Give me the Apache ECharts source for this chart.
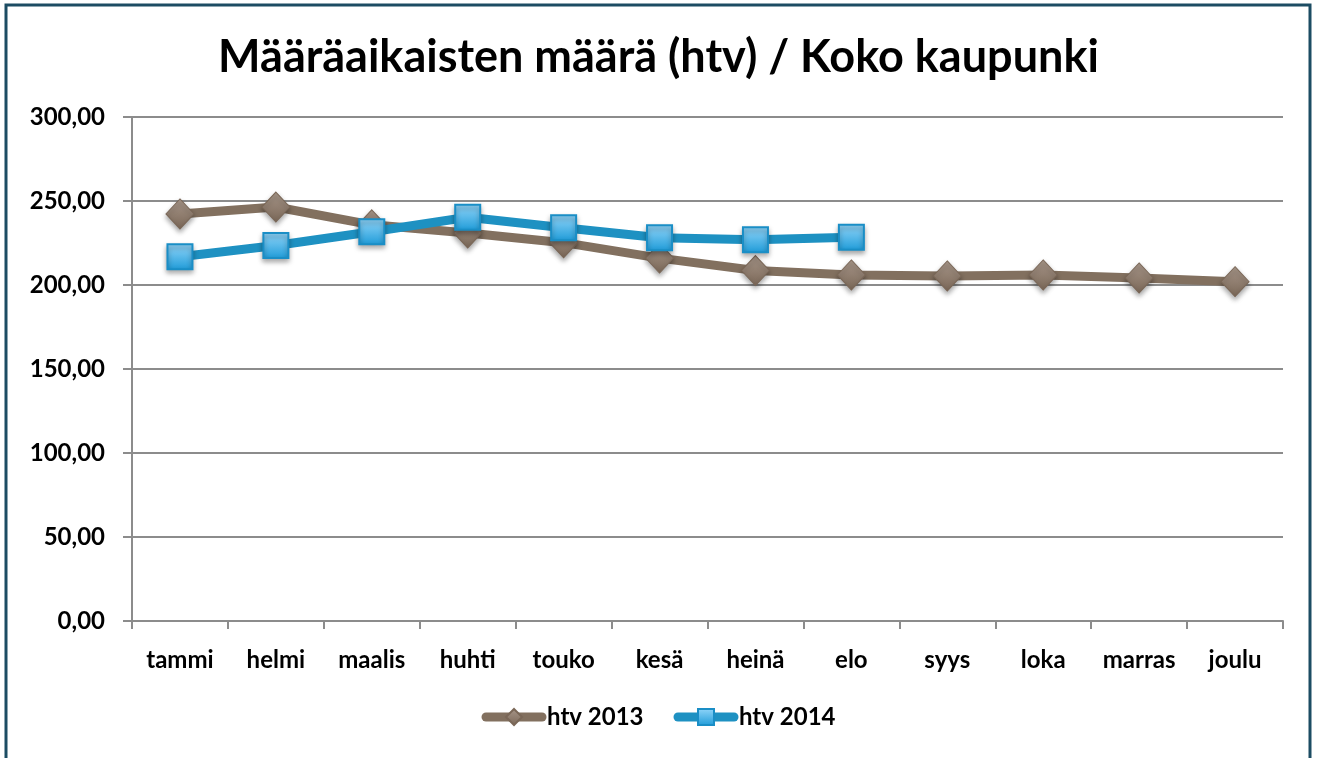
<!DOCTYPE html>
<html>
<head>
<meta charset="utf-8">
<script src="https://cdn.jsdelivr.net/npm/echarts@6/dist/echarts.min.js"></script>
<style>
  html, body { margin: 0; padding: 0; background: #fff; }
  #chart { width: 1317px; height: 758px; }
</style>
</head>
<body>
<div id="chart"></div>
<script>
// kuukaudet ja arvot luettu kuvasta
var months = ['tammi', 'helmi', 'maalis', 'huhti', 'touko', 'kesä', 'heinä', 'elo', 'syys', 'loka', 'marras', 'joulu'];
var htv2013 = [242.3, 246.4, 235.8, 231.0, 225.2, 216.0, 208.6, 206.0, 205.4, 206.0, 204.2, 202.0];
var htv2014 = [216.8, 223.5, 231.7, 240.3, 234.1, 228.1, 227.0, 228.4];
var yTicks = [0, 50, 100, 150, 200, 250, 300];

var font = 'Lato, "Open Sans", sans-serif';
var chart = echarts.init(document.getElementById('chart'));

var option = {
  backgroundColor: '#fff',
  animation: false,
  title: {
    text: 'Määräaikaisten määrä (htv) / Koko kaupunki',
    left: 'center',
    top: 30,
    textStyle: { fontFamily: font, fontSize: 45, fontWeight: 'bold', color: '#000' }
  },
  graphic: [{
    type: 'rect',
    shape: { x: 6, y: 5, width: 1304, height: 770 },
    style: { fill: 'none', stroke: '#1c4c63', lineWidth: 3 },
    silent: true
  }],
  grid: { left: 132, right: 34, top: 117, bottom: 137 },
  legend: {
    bottom: 24,
    left: 'center',
    itemWidth: 56,
    itemHeight: 20,
    itemGap: 30,
    textStyle: { fontFamily: font, fontSize: 24, fontWeight: 'bold', color: '#000', padding: [0, 0, 0, 0] },
    data: [
      { name: 'htv 2013', lineStyle: { width: 9, cap: 'round' } },
      { name: 'htv 2014', lineStyle: { width: 9, cap: 'round' } }
    ]
  },
  xAxis: {
    type: 'category',
    data: months,
    boundaryGap: true,
    axisLine: { lineStyle: { color: '#8c8c8c', width: 2 } },
    axisTick: { show: true, interval: 0, length: 8, lineStyle: { color: '#8c8c8c', width: 2 } },
    axisLabel: { interval: 0, margin: 27, fontFamily: font, fontSize: 24, fontWeight: 'bold', color: '#000' }
  },
  yAxis: {
    type: 'value',
    min: yTicks[0],
    max: yTicks[yTicks.length - 1],
    interval: 50,
    axisLine: { show: true, lineStyle: { color: '#8c8c8c', width: 2 } },
    axisTick: { show: true, length: 9, lineStyle: { color: '#8c8c8c', width: 2 } },
    splitLine: { lineStyle: { color: '#8c8c8c', width: 2 } },
    axisLabel: {
      margin: 27,
      fontFamily: font, fontSize: 24, fontWeight: 'bold', color: '#000',
      formatter: function (v) { return v.toFixed(2).replace('.', ','); }
    }
  },
  series: [{
    name: 'htv 2013',
    type: 'line',
    data: htv2013,
    symbol: 'diamond',
    symbolSize: [28, 30],
    lineStyle: { color: '#82705f', width: 9 },
    itemStyle: {
      color: new echarts.graphic.LinearGradient(0, 0, 0, 1, [
        { offset: 0, color: '#a8978a' },
        { offset: 1, color: '#7a6757' }
      ]),
      borderColor: '#7a6757',
      borderWidth: 1,
      shadowBlur: 5,
      shadowColor: 'rgba(0,0,0,0.35)',
      shadowOffsetY: 3
    },
    z: 2
  }, {
    name: 'htv 2014',
    type: 'line',
    data: htv2014,
    symbol: 'rect',
    symbolSize: 25,
    lineStyle: { color: '#1e91c2', width: 9 },
    itemStyle: {
      color: new echarts.graphic.LinearGradient(0, 0, 0, 1, [
        { offset: 0, color: '#93d6fa' },
        { offset: 1, color: '#1e9bd8' }
      ]),
      borderColor: '#1a8ec6',
      borderWidth: 2,
      shadowBlur: 5,
      shadowColor: 'rgba(0,0,0,0.35)',
      shadowOffsetY: 3
    },
    z: 3
  }]
};

chart.setOption(option);
</script>
</body>
</html>
